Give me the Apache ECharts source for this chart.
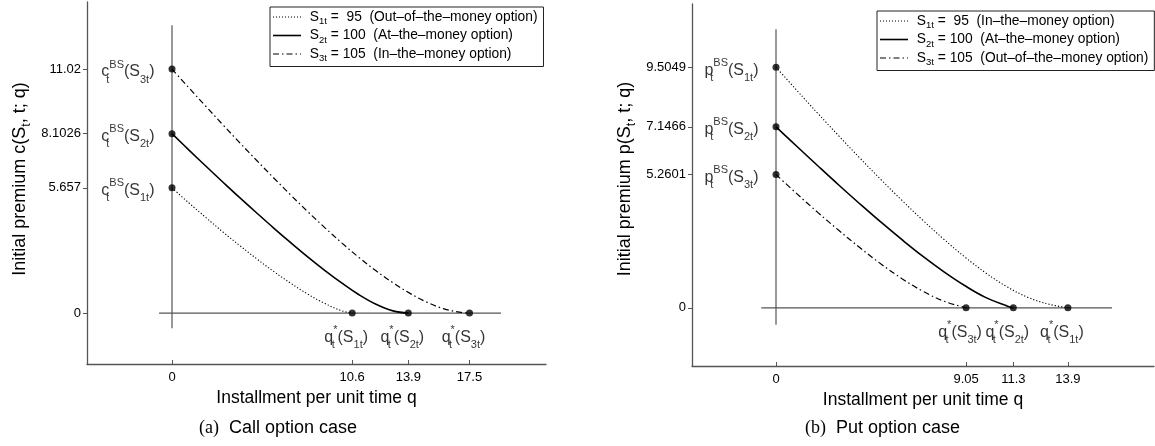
<!DOCTYPE html>
<html>
<head>
<meta charset="utf-8">
<script src="https://cdn.jsdelivr.net/npm/echarts@6/dist/echarts.min.js"></script>
<style>
  html, body { margin: 0; padding: 0; background: #fff; }
  #main { width: 1155px; height: 446px; }
</style>
</head>
<body>
<div id="main"></div>
<script>
// 字体
const SANS = '"Liberation Sans", Arial, Helvetica, sans-serif'
const SERIF = '"Liberation Serif", "Times New Roman", serif'
const AXIS_GREY = '#555'

// ---- (a) call option case ----
const callTickX = [0, 10.6, 13.9, 17.5]
const callTickY = [0, 5.657, 8.1026, 11.02]
// S1t = 95 (dotted)
const callQ1 = [0, 1, 2, 3, 4, 5, 6, 7, 8, 9, 10, 10.6]
const callC1 = [5.657, 4.97, 4.31, 3.66, 3.04, 2.44, 1.87, 1.34, 0.85, 0.43, 0.10, 0]
// S2t = 100 (solid)
const callQ2 = [0, 1, 2, 3, 4, 5, 6, 7, 8, 9, 10, 11, 12, 13, 13.9]
const callC2 = [8.1026, 7.36, 6.63, 5.91, 5.20, 4.51, 3.83, 3.17, 2.53, 1.92, 1.35, 0.83, 0.40, 0.10, 0]
// S3t = 105 (dash-dot)
const callQ3 = [0, 1, 2, 3, 4, 5, 6, 7, 8, 9, 10, 11, 12, 13, 14, 15, 16, 17, 17.5]
const callC3 = [11.02, 10.17, 9.33, 8.50, 7.68, 6.88, 6.09, 5.32, 4.57, 3.85, 3.16, 2.51, 1.91, 1.37, 0.89, 0.49, 0.19, 0.03, 0]
// 内部的十字线 (q=0 竖线, premium=0 横线)
const callCrossV = [-0.68, 13.0]
const callCrossH = [-0.76, 19.35]

// ---- (b) put option case ----
const putTickX = [0, 9.05, 11.3, 13.9]
const putTickY = [0, 5.2601, 7.1466, 9.5049]
// S1t = 95 (dotted)
const putQ1 = [0, 1, 2, 3, 4, 5, 6, 7, 8, 9, 10, 11, 12, 13, 13.9]
const putP1 = [9.5049, 8.58, 7.67, 6.78, 5.91, 5.06, 4.24, 3.45, 2.70, 2.00, 1.37, 0.83, 0.41, 0.14, 0]
// S2t = 100 (solid)
const putQ2 = [0, 1, 2, 3, 4, 5, 6, 7, 8, 9, 10, 11, 11.3]
const putP2 = [7.1466, 6.37, 5.60, 4.84, 4.10, 3.38, 2.69, 2.03, 1.42, 0.87, 0.40, 0.07, 0]
// S3t = 105 (dash-dot)
const putQ3 = [0, 1, 2, 3, 4, 5, 6, 7, 8, 9.05]
const putP3 = [5.2601, 4.50, 3.76, 3.05, 2.37, 1.73, 1.15, 0.65, 0.26, 0]
const putCrossV = [-0.67, 11.0]
const putCrossH = [-0.7, 16.0]

// 注释文字 (rich text)
const callStartText = [
  '{m|c}{z|t}{p|BS}{m|(S}{b|1t}{m|)}',
  '{m|c}{z|t}{p|BS}{m|(S}{b|2t}{m|)}',
  '{m|c}{z|t}{p|BS}{m|(S}{b|3t}{m|)}'
]
const callZeroText = [
  '{m|q}{z|t}{p|*}{m|(S}{b|1t}{m|)}',
  '{m|q}{z|t}{p|*}{m|(S}{b|2t}{m|)}',
  '{m|q}{z|t}{p|*}{m|(S}{b|3t}{m|)}'
]
const putStartText = [
  '{m|p}{z|t}{p|BS}{m|(S}{b|1t}{m|)}',
  '{m|p}{z|t}{p|BS}{m|(S}{b|2t}{m|)}',
  '{m|p}{z|t}{p|BS}{m|(S}{b|3t}{m|)}'
]
const putZeroText = [
  '{m|q}{z|t}{p|*}{m|(S}{b|3t}{m|)}',
  '{m|q}{z|t}{p|*}{m|(S}{b|2t}{m|)}',
  '{m|q}{z|t}{p|*}{m|(S}{b|1t}{m|)}'
]
const legendText = {
  c1: '{m| S}{b|1t}{m| =  95  (Out–of–the–money option)}',
  c2: '{m| S}{b|2t}{m| = 100  (At–the–money option)}',
  c3: '{m| S}{b|3t}{m| = 105  (In–the–money option)}',
  p1: '{m| S}{b|1t}{m| =  95  (In–the–money option)}',
  p2: '{m| S}{b|2t}{m| = 100  (At–the–money option)}',
  p3: '{m| S}{b|3t}{m| = 105  (Out–of–the–money option)}'
}

const annRich = {
  m: { fontSize: 16, lineHeight: 26, fontFamily: SANS, color: '#000' },
  z: { fontSize: 11, lineHeight: 18, verticalAlign: 'bottom', width: 0, fontFamily: SANS, color: '#000' },
  p: { fontSize: 11, lineHeight: 10, verticalAlign: 'top', fontFamily: SANS, color: '#000' },
  b: { fontSize: 11, lineHeight: 18, verticalAlign: 'bottom', fontFamily: SANS, color: '#000' }
}
const legendRich = {
  m: { fontSize: 13.8, lineHeight: 19, fontFamily: SANS, color: '#000' },
  b: { fontSize: 9.5, lineHeight: 11, verticalAlign: 'bottom', fontFamily: SANS, color: '#000' }
}
const titleRich = {
  m: { fontSize: 18, lineHeight: 26, fontFamily: SANS, color: '#000' },
  b: { fontSize: 12.5, lineHeight: 20, verticalAlign: 'bottom', fontFamily: SANS, color: '#000' },
  s: { fontSize: 18, lineHeight: 26, fontFamily: SERIF, color: '#000' }
}

// 线型
const DOT = [1.2, 2]
const DASHDOT = [6, 3, 1.5, 3]
// 图例的线型小样
const ICON = {
  dot: 'path://M0,0h1v1h-1z M3,0h1v1h-1z M6,0h1v1h-1z M9,0h1v1h-1z M12,0h1v1h-1z M15,0h1v1h-1z M18,0h1v1h-1z M21,0h1v1h-1z M24,0h1v1h-1z M27,0h1v1h-1z',
  solid: 'path://M0,0h28v1.6h-28z',
  dashdot: 'path://M0,0h6v1h-6z M9,0h1.5v1h-1.5z M13.5,0h6v1h-6z M22.5,0h1.5v1h-1.5z M27,0h1v1h-1z'
}

function pairs (xs, ys) {
  return xs.map((x, i) => [x, ys[i]])
}

function curve (name, idx, xs, ys, type, width) {
  return {
    name: name,
    type: 'line',
    xAxisIndex: idx,
    yAxisIndex: idx,
    data: pairs(xs, ys),
    symbol: 'none',
    smooth: 0.4,
    itemStyle: { color: '#000' },
    lineStyle: { color: '#000', width: width, type: type },
    z: 3
  }
}

// 内部十字线
function cross (idx, v, h) {
  const style = { color: AXIS_GREY, width: 1.2 }
  return [
    { type: 'line', xAxisIndex: idx, yAxisIndex: idx, data: [[0, v[0]], [0, v[1]]], symbol: 'none', silent: true, lineStyle: style, z: 2 },
    { type: 'line', xAxisIndex: idx, yAxisIndex: idx, data: [[h[0], 0], [h[1], 0]], symbol: 'none', silent: true, lineStyle: style, z: 2 }
  ]
}

// 端点 + 注释
function dots (idx, startVals, zeroVals, startText, zeroText) {
  return [
    {
      type: 'scatter', xAxisIndex: idx, yAxisIndex: idx,
      data: startVals.map(v => [0, v]),
      symbolSize: 7, itemStyle: { color: '#000' }, z: 5,
      label: {
        show: true, position: 'left', distance: 14, offset: [0, 3],
        formatter: p => startText[p.dataIndex], rich: annRich
      }
    },
    {
      type: 'scatter', xAxisIndex: idx, yAxisIndex: idx,
      data: zeroVals.map(q => [q, 0]),
      symbolSize: 7, itemStyle: { color: '#000' }, z: 5,
      label: {
        show: true, position: 'bottom', distance: 8, offset: [-6, 0],
        formatter: p => zeroText[p.dataIndex], rich: annRich
      }
    }
  ]
}

function xAxisOpt (idx, min, max, ticks) {
  return {
    gridIndex: idx, type: 'value', min: min, max: max,
    name: 'Installment per unit time q', nameLocation: 'middle', nameGap: 19,
    nameTextStyle: { fontSize: 17.5, fontFamily: SANS, color: '#000' },
    axisLine: { show: true, onZero: false, lineStyle: { color: AXIS_GREY, width: 1.3 } },
    axisTick: { show: true, inside: true, length: 4, customValues: ticks, lineStyle: { color: AXIS_GREY } },
    axisLabel: { customValues: ticks, margin: 7, fontSize: 13, fontFamily: SANS, color: '#000' },
    splitLine: { show: false }
  }
}

function yAxisOpt (idx, min, max, ticks) {
  return {
    gridIndex: idx, type: 'value', min: min, max: max,
    axisLine: { show: true, onZero: false, lineStyle: { color: AXIS_GREY, width: 1.3 } },
    axisTick: { show: true, inside: false, length: 4, customValues: ticks, lineStyle: { color: AXIS_GREY } },
    axisLabel: { customValues: ticks, margin: 6, fontSize: 13, fontFamily: SANS, color: '#000' },
    splitLine: { show: false }
  }
}

function legendOpt (left, top, names, icons) {
  return {
    data: names.map((n, i) => ({ name: n, icon: ICON[icons[i]] })),
    orient: 'vertical',
    left: left, top: top,
    padding: [3, 6, 3, 3],
    itemGap: 2,
    itemWidth: 28, itemHeight: 12,
    backgroundColor: '#fff',
    borderColor: '#222', borderWidth: 1,
    borderRadius: 0,
    selectedMode: false,
    itemStyle: { color: '#000', borderWidth: 0 },
    formatter: n => legendText[n],
    textStyle: { rich: legendRich }
  }
}

const chart = echarts.init(document.getElementById('main'))

const option = {
  animation: false,
  backgroundColor: '#fff',
  grid: [
    { left: 87, top: 2, width: 459, height: 362 },
    { left: 692, top: 4, width: 462, height: 362 }
  ],
  xAxis: [
    xAxisOpt(0, -5, 22, callTickX),
    xAxisOpt(1, -4, 18, putTickX)
  ],
  yAxis: [
    yAxisOpt(0, -2.3, 14.05, callTickY),
    yAxisOpt(1, -2.3, 12, putTickY)
  ],
  legend: [
    legendOpt(270, 7, ['c1', 'c2', 'c3'], ['dot', 'solid', 'dashdot']),
    legendOpt(877, 11, ['p1', 'p2', 'p3'], ['dot', 'solid', 'dashdot'])
  ],
  graphic: [
    // y 轴标题
    {
      type: 'text', x: 20, y: 179, rotation: Math.PI / 2,
      style: { text: '{m|Initial premium c(S}{b|t}{m|, t; q)}', rich: titleRich, align: 'center', verticalAlign: 'middle' }
    },
    {
      type: 'text', x: 625, y: 179, rotation: Math.PI / 2,
      style: { text: '{m|Initial premium p(S}{b|t}{m|, t; q)}', rich: titleRich, align: 'center', verticalAlign: 'middle' }
    },
    // 子图标题
    {
      type: 'text', x: 199, y: 428,
      style: { text: '{s|(a)}{m|  Call option case}', rich: titleRich, align: 'left', verticalAlign: 'middle' }
    },
    {
      type: 'text', x: 805, y: 428,
      style: { text: '{s|(b)}{m|  Put option case}', rich: titleRich, align: 'left', verticalAlign: 'middle' }
    }
  ],
  series: [
    ...cross(0, callCrossV, callCrossH),
    curve('c1', 0, callQ1, callC1, DOT, 1.1),
    curve('c2', 0, callQ2, callC2, 'solid', 1.6),
    curve('c3', 0, callQ3, callC3, DASHDOT, 1.2),
    ...dots(0, [callC1[0], callC2[0], callC3[0]],
      [callQ1[callQ1.length - 1], callQ2[callQ2.length - 1], callQ3[callQ3.length - 1]],
      callStartText, callZeroText),

    ...cross(1, putCrossV, putCrossH),
    curve('p1', 1, putQ1, putP1, DOT, 1.1),
    curve('p2', 1, putQ2, putP2, 'solid', 1.6),
    curve('p3', 1, putQ3, putP3, DASHDOT, 1.2),
    ...dots(1, [putP1[0], putP2[0], putP3[0]],
      [putQ3[putQ3.length - 1], putQ2[putQ2.length - 1], putQ1[putQ1.length - 1]],
      putStartText, putZeroText)
  ]
}

chart.setOption(option)
</script>
</body>
</html>
